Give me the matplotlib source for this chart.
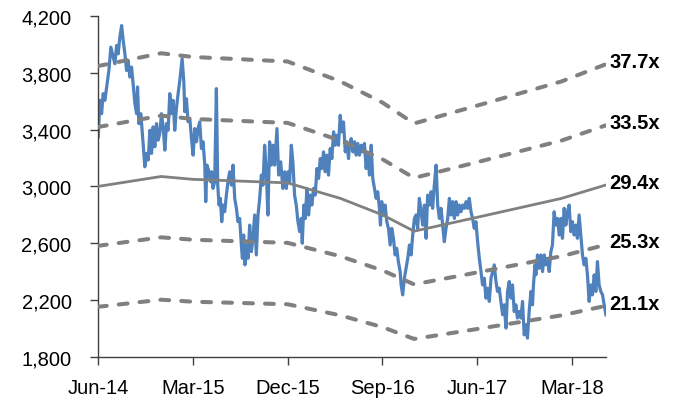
import matplotlib
matplotlib.use("Agg")
import matplotlib.pyplot as plt

plt.rcParams['font.family'] = ['Liberation Sans', 'DejaVu Sans']

# price index, x = months since Jun-14
t = [0.03, 0.19, 0.35, 0.50, 0.66, 0.92, 1.04, 1.23, 1.45, 1.61, 1.77, 1.92, 2.08, 2.25, 2.40, 2.56,
     2.72, 2.87, 3.03, 3.19, 3.34, 3.51, 3.67, 3.76, 3.88, 4.07, 4.29, 4.45, 4.61, 4.77, 4.93, 5.09,
     5.24, 5.40, 5.56, 5.71, 5.87, 6.03, 6.19, 6.35, 6.51, 6.66, 6.82, 6.98, 7.13, 7.29, 7.46, 7.61,
     7.77, 7.99,
     8.15, 8.24, 8.40, 8.55, 8.72, 8.88, 9.03, 9.19, 9.35, 9.50, 9.66, 9.82, 9.98, 10.14, 10.23, 10.35,
     10.54, 10.68, 10.80, 10.92, 11.08, 11.24, 11.37, 11.49, 11.62, 11.75, 11.87, 12.03, 12.19, 12.34,
     12.50, 12.67, 12.82, 12.98, 13.14, 13.29, 13.45, 13.61, 13.71, 13.83, 13.95, 14.09, 14.24, 14.40,
     14.56, 14.71, 14.87, 15.03, 15.19, 15.35, 15.51, 15.66,
     15.82, 15.98, 16.13, 16.29, 16.46, 16.61, 16.77, 16.99, 17.15, 17.34, 17.55, 17.72, 17.88, 18.03,
     18.19, 18.35, 18.50, 18.66, 18.82, 18.98, 19.14, 19.30, 19.39, 19.54, 19.68, 19.83, 19.99, 20.15,
     20.30, 20.46, 20.62, 20.78, 20.94, 21.10, 21.25, 21.41, 21.57, 21.72, 21.88, 22.04, 22.20, 22.36,
     22.52, 22.67, 22.83, 22.99, 23.14, 23.30, 23.47, 23.62, 23.78,
     23.87, 24.03, 24.19, 24.35, 24.51, 24.66, 24.82, 24.98, 25.13, 25.29, 25.45, 25.61, 25.77, 25.93,
     26.08, 26.24, 26.40, 26.55, 26.71, 26.81, 26.93, 27.09, 27.25, 27.41, 27.57, 27.73, 27.88, 28.04,
     28.20, 28.35, 28.51, 28.68, 28.77, 28.92, 29.08, 29.24, 29.40, 29.56, 29.72, 29.87, 30.03, 30.19,
     30.34, 30.50, 30.67, 30.82, 30.98, 31.14, 31.29, 31.45, 31.61, 31.76,
     31.92, 32.09, 32.24, 32.40, 32.56, 32.71, 32.87, 33.03, 33.19, 33.35, 33.51, 33.66, 33.82, 33.98,
     34.13, 34.29, 34.45, 34.61, 34.77, 34.93, 35.08, 35.24, 35.40, 35.55, 35.71, 35.87, 36.03, 36.19,
     36.35, 36.50, 36.66, 36.82, 36.97, 37.14, 37.30, 37.45, 37.61, 37.77, 37.92, 38.08, 38.24, 38.40,
     38.56, 38.72, 38.87, 39.03, 39.19, 39.34, 39.50, 39.66, 39.81,
     39.98, 40.14, 40.29, 40.45, 40.61, 40.76, 40.92, 41.09, 41.24, 41.33, 41.47, 41.56, 41.71, 41.87,
     42.03, 42.19, 42.35, 42.51, 42.66, 42.82, 42.98, 43.13, 43.29, 43.45, 43.61, 43.77, 43.93, 44.08,
     44.24, 44.40, 44.55, 44.71, 44.87, 45.03, 45.19, 45.35, 45.50, 45.66, 45.82, 45.98, 46.14, 46.30,
     46.45, 46.61, 46.77, 46.93, 47.09, 47.25, 47.40, 47.56, 47.72, 47.88, 48.04, 48.20]
price = [3349, 3606, 3512, 3653, 3606, 3746, 3816, 3980, 3910, 3863, 3992, 3933, 4050, 4132, 4027, 3933,
         3816, 3886, 3770, 3840, 3723, 3582, 3512, 3700, 3442, 3512, 3302, 3138, 3232, 3185, 3395, 3232,
         3419, 3279, 3442, 3325, 3372, 3512, 3419, 3255, 3442, 3395, 3653, 3512, 3606, 3395, 3559, 3653,
         3746, 3900,
         3737, 3526, 3617, 3456, 3477, 3337, 3220, 3407, 3314, 3407, 3454, 3267, 3314, 3150, 2893, 3150,
         3103, 3033, 3103, 2986, 3033, 3688, 3009, 2869, 2916, 2752, 2869, 2822, 2939, 3033,
         3103, 3009, 3150, 2916, 2846, 2752, 2775, 2588, 2494, 2658, 2448, 2588, 2494, 2728,
         2541, 2635, 2799, 2518, 2799, 2916, 3080, 3009,
         3290, 3103, 2799, 3314, 3150, 3290, 3150, 3407, 3080, 3173, 2986, 3103, 2986, 3103,
         3033, 3290, 3173, 2939, 2869, 2752, 2682, 2775, 2600, 2869, 2775, 2986, 2799, 2939,
         2869, 2986, 2939, 3126, 3056, 3196, 3126, 3243, 3103, 3220, 3080, 3267, 3196, 3384,
         3290, 3360, 3290, 3500, 3384, 3454, 3243, 3314, 3196,
         3290, 3337, 3243, 3314, 3220, 3302, 3220, 3290, 3243, 3302, 3126, 3220, 3080, 3290,
         3056, 2986, 2916, 2963, 2846, 2728, 2893, 2799, 2869, 2752, 2705, 2588, 2705, 2635,
         2518, 2565, 2471, 2401, 2307, 2237, 2354, 2424, 2494, 2588, 2518, 2658, 2775, 2799,
         2705, 2916, 2822, 2728, 2869, 2635, 2939, 2869, 2963, 2846,
         3009, 3150, 2869, 2775, 2846, 2728, 2611, 2705, 2775, 2916, 2799, 2893, 2775, 2893,
         2799, 2869, 2822, 2869, 2846, 2893, 2846, 2916, 2822, 2775, 2705, 2752, 2611, 2494,
         2401, 2307, 2354, 2214, 2284, 2191, 2354, 2401, 2448, 2331, 2261, 2284, 2191, 2097,
         2167, 2003, 2261, 2331, 2214, 2307, 2120, 2167, 2074,
         2120, 2074, 2191, 1956, 2027, 1933, 2120, 2261, 2167, 2307, 2448, 2378, 2518, 2424,
         2518, 2401, 2518, 2448, 2494, 2401, 2541, 2588, 2822, 2728, 2775, 2658, 2775, 2635,
         2846, 2728, 2822, 2869, 2682, 2752, 2658, 2728, 2635, 2799, 2658, 2518, 2448, 2494,
         2378, 2191, 2307, 2237, 2378, 2261, 2471, 2307, 2261, 2237, 2167, 2097]

# P/E bands
band_t = [0, 6, 9, 18, 23, 27, 30, 36, 44, 48.2]
band_377 = [3847, 3937, 3911, 3879, 3739, 3590, 3443, 3569, 3739, 3860]
band_335 = [3418, 3498, 3475, 3447, 3323, 3191, 3060, 3171, 3323, 3430]
band_294 = [3000, 3070, 3050, 3025, 2916, 2800, 2685, 2783, 2916, 3010]
band_253 = [2582, 2642, 2625, 2603, 2509, 2409, 2311, 2395, 2509, 2590]
band_211 = [2153, 2203, 2189, 2171, 2093, 2010, 1927, 1997, 2093, 2160]
band_labels = ["37.7x", "33.5x", "29.4x", "25.3x", "21.1x"]

xtick_pos = [0, 9, 18, 27, 36, 45]
xtick_labels = ["Jun-14", "Mar-15", "Dec-15", "Sep-16", "Jun-17", "Mar-18"]
yticks = [1800, 2200, 2600, 3000, 3400, 3800, 4200]

fig = plt.figure(figsize=(6.8, 4.02), dpi=100)
ax = fig.add_axes([0.144, 0.1095, 0.747, 0.8485])

ax.plot(t, price, color="#4F81BD", lw=2.3, zorder=2)

gray = "#808080"
bands = [band_377, band_335, band_294, band_253, band_211]
for lab, b in zip(band_labels, bands):
    if lab == "29.4x":
        ax.plot(band_t, b, color=gray, lw=2.0, zorder=3)
    else:
        ax.plot(band_t, b, color=gray, lw=2.9, dashes=(2.2, 3.0),
                dash_capstyle="round", zorder=3)
    ax.annotate(lab, (48.5, b[-1]), xytext=(0, 2), textcoords="offset points",
                ha="left", va="center", fontsize=14.5, fontweight="bold",
                annotation_clip=False)

ax.set_xlim(0, 48.2)
ax.set_ylim(1800, 4200)
ax.set_xticks(xtick_pos)
ax.set_xticklabels(xtick_labels)
ax.set_yticks(yticks)
ax.set_yticklabels([f"{v:,}" for v in yticks])

for s in ["top", "right"]:
    ax.spines[s].set_visible(False)
for s in ["left", "bottom"]:
    ax.spines[s].set_color("#404040")
    ax.spines[s].set_linewidth(1.0)
ax.tick_params(axis="both", direction="out", length=6, width=1.0, color="#404040",
               labelsize=14.5, labelcolor="black")
ax.tick_params(axis="y", pad=13)
ax.tick_params(axis="x", pad=9)

fig.savefig("out.png", dpi=100)
